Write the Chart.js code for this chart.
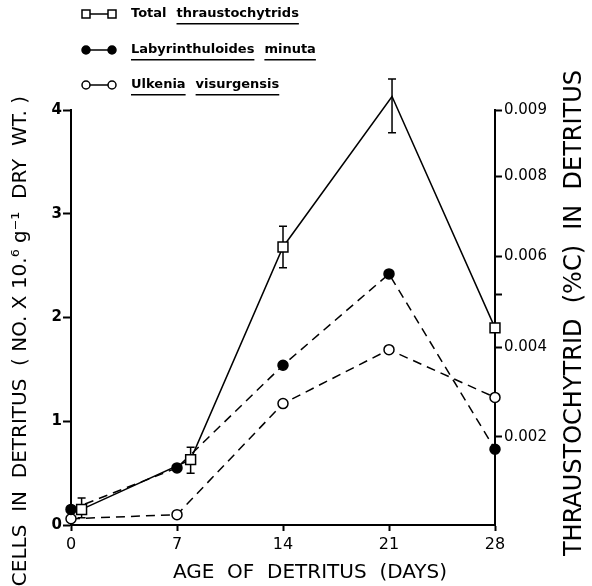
<!DOCTYPE html>
<html>
<head>
<meta charset="utf-8">
<script src="https://cdn.jsdelivr.net/npm/chart.js@4.4.0/dist/chart.umd.min.js"></script>
<style>
  html, body { margin: 0; padding: 0; background: #fff; }
</style>
</head>
<body>
<canvas id="chart" width="592" height="586"></canvas>
<script>
// values (cells in units of 10^6 per g dry wt.)
const days = [0, 7, 14, 21, 28];
const totalDays = [0.7, 7.9, 14, 21.2, 28];
const totalCells = [0.15, 0.63, 2.68, 4.13, 1.9];
const totalErrLow = [0.07, 0.5, 2.48, 3.78, null];
const totalErrHigh = [0.26, 0.75, 2.88, 4.3, null];
const labyrinthuloides = [0.15, 0.55, 1.54, 2.42, 0.73];
const ulkenia = [0.06, 0.1, 1.17, 1.69, 1.23];

// right axis: %C labels and where they sit on the cells scale
const rightTickCells = [0.85, 1.71, 2.22, 2.59, 3.36, 4.0];
const rightTickLabels = ['0.002', '0.004', '', '0.006', '0.008', '0.009'];

const seriesNames = ['Total thraustochytrids', 'Labyrinthuloides minuta', 'Ulkenia visurgensis'];
const plainWords = ['Total'];

const xTitle = 'AGE  OF  DETRITUS  (DAYS)';
const leftTitle = 'CELLS  IN  DETRITUS  ( NO. X 10.\u2076 g\u207B\u00B9  DRY  WT. )';
const rightTitle = 'THRAUSTOCHYTRID  (%C)  IN  DETRITUS';

const font = '"DejaVu Sans", sans-serif';

function toPoints(xs, ys) {
  return xs.map((d, i) => ({ x: d, y: ys[i] }));
}

const errorBars = {
  id: 'errorBars',
  beforeDatasetsDraw(chart) {
    const { ctx, scales: { x, y } } = chart;
    ctx.save();
    ctx.strokeStyle = '#000';
    ctx.lineWidth = 1.5;
    totalDays.forEach((d, i) => {
      if (totalErrLow[i] === null) return;
      const px = x.getPixelForValue(d);
      const top = y.getPixelForValue(totalErrHigh[i]);
      const bot = y.getPixelForValue(totalErrLow[i]);
      ctx.beginPath();
      ctx.moveTo(px, top); ctx.lineTo(px, bot);
      ctx.moveTo(px - 4, top); ctx.lineTo(px + 4, top);
      ctx.moveTo(px - 4, bot); ctx.lineTo(px + 4, bot);
      ctx.stroke();
    });
    ctx.restore();
  }
};

const titlesAndLegend = {
  id: 'titlesAndLegend',
  afterDraw(chart) {
    const { ctx } = chart;
    ctx.save();
    ctx.fillStyle = '#000';
    ctx.textBaseline = 'middle';
    ctx.textAlign = 'center';

    ctx.font = '20px ' + font;
    ctx.fillText(xTitle, 310, 573);

    ctx.save();
    ctx.translate(21, 341);
    ctx.rotate(-Math.PI / 2);
    ctx.font = '20px ' + font;
    ctx.fillText(leftTitle, 0, 0);
    ctx.restore();

    ctx.save();
    ctx.translate(575, 313);
    ctx.rotate(-Math.PI / 2);
    ctx.font = '24px ' + font;
    ctx.fillText(rightTitle, 0, 0);
    ctx.restore();

    // legend
    const rows = [14, 50, 85];
    ctx.textAlign = 'left';
    ctx.font = 'bold 13px ' + font;
    chart.data.datasets.forEach((ds, i) => {
      const y = rows[i];
      ctx.strokeStyle = '#000';
      ctx.lineWidth = 1.5;
      ctx.setLineDash([]);
      ctx.beginPath();
      ctx.moveTo(86, y); ctx.lineTo(112, y);
      ctx.stroke();
      [86, 112].forEach(mx => {
        ctx.beginPath();
        if (ds.pointStyle === 'rect') {
          ctx.rect(mx - 4, y - 4, 8, 8);
        } else {
          ctx.arc(mx, y, 4, 0, Math.PI * 2);
        }
        ctx.fillStyle = ds.pointBackgroundColor;
        ctx.fill();
        ctx.stroke();
      });
      ctx.fillStyle = '#000';
      let tx = 131;
      ds.label.split(' ').forEach(word => {
        const w = ctx.measureText(word).width;
        ctx.fillText(word, tx, y);
        if (!plainWords.includes(word)) {
          ctx.fillRect(tx, y + 9, w, 1.5);
        }
        tx += w + 10;
      });
    });
    ctx.restore();
  }
};

new Chart(document.getElementById('chart'), {
  type: 'line',
  data: {
    datasets: [{
      label: seriesNames[0],
      data: toPoints(totalDays, totalCells),
      borderColor: '#000',
      borderWidth: 1.5,
      pointStyle: 'rect',
      pointRadius: 7,
      pointBackgroundColor: '#fff',
      pointBorderColor: '#000',
      pointBorderWidth: 1.5,
      clip: false
    }, {
      label: seriesNames[1],
      data: toPoints(days, labyrinthuloides),
      borderColor: '#000',
      borderWidth: 1.5,
      borderDash: [9, 6],
      pointStyle: 'circle',
      pointRadius: 5,
      pointBackgroundColor: '#000',
      pointBorderColor: '#000',
      pointBorderWidth: 1.5,
      clip: false
    }, {
      label: seriesNames[2],
      data: toPoints(days, ulkenia),
      borderColor: '#000',
      borderWidth: 1.5,
      borderDash: [9, 6],
      pointStyle: 'circle',
      pointRadius: 5,
      pointBackgroundColor: '#fff',
      pointBorderColor: '#000',
      pointBorderWidth: 1.5,
      clip: false
    }]
  },
  options: {
    responsive: false,
    animation: false,
    layout: { padding: { top: 110 } },
    plugins: {
      legend: { display: false },
      tooltip: { enabled: false }
    },
    scales: {
      x: {
        type: 'linear',
        min: 0,
        max: 28,
        afterFit: scale => { scale.height = 61; },
        border: { color: '#000', width: 2 },
        grid: { drawOnChartArea: false, tickLength: 6, color: '#000', tickWidth: 2 },
        ticks: { stepSize: 7, color: '#000', padding: 4, font: { family: font, size: 16 } }
      },
      y: {
        type: 'linear',
        position: 'left',
        min: 0,
        max: 4,
        afterFit: scale => { scale.width = 71; },
        border: { color: '#000', width: 2 },
        grid: { drawOnChartArea: false, tickLength: 8, color: '#000', tickWidth: 2 },
        ticks: { stepSize: 1, color: '#000', padding: 1, font: { family: font, size: 15, weight: 'bold' } }
      },
      y2: {
        type: 'linear',
        position: 'right',
        min: 0,
        max: 4,
        afterFit: scale => { scale.width = 97; },
        afterBuildTicks: scale => { scale.ticks = rightTickCells.map(v => ({ value: v })); },
        border: { color: '#000', width: 2 },
        grid: { drawOnChartArea: false, tickLength: 7, color: '#000', tickWidth: 2 },
        ticks: {
          color: '#000',
          padding: 2,
          font: { family: font, size: 15 },
          callback: (value, index) => rightTickLabels[index]
        }
      }
    }
  },
  plugins: [errorBars, titlesAndLegend]
});
</script>
</body>
</html>
